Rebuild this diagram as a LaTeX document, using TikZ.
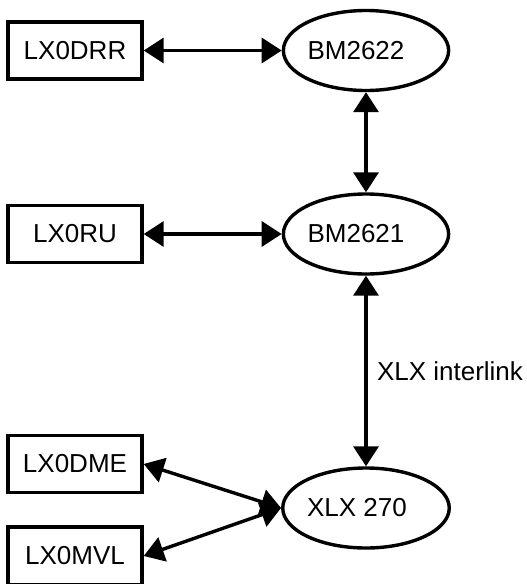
\documentclass[tikz,border=0pt]{standalone}
\usepackage{fontspec}
\setmainfont{Liberation Sans}
\usetikzlibrary{shapes.geometric,arrows.meta}
\begin{document}
\begin{tikzpicture}[x=1pt,y=-1pt,
  every node/.style={font=\fontsize{26}{30}\selectfont},
  boxnode/.style={draw,line width=3.4pt,minimum width=134pt,minimum height=57pt,inner sep=0pt},
  ellnode/.style={draw,ellipse,line width=3.4pt,minimum width=160pt,minimum height=80pt,inner sep=0pt},
  link/.style={line width=3.4pt,{Triangle[length=20pt,width=25pt]}-{Triangle[length=20pt,width=25pt]}}]
\useasboundingbox (0,0) rectangle (527,584);
\node[boxnode] (drr) at (75,50.5) {LX0DRR};
\node[boxnode] (ru) at (75,234) {LX0RU};
\node[boxnode] (dme) at (75,464) {LX0DME};
\node[boxnode,minimum height=58pt] (mvl) at (75,556) {LX0MVL};
\node[ellnode] (b22) at (366,50.5) {BM2622\hspace*{20pt}};
\node[ellnode] (b21) at (366,234) {BM2621\hspace*{20pt}};
\node[ellnode] (xlx) at (366,508) {XLX 270\hspace*{18pt}};
\draw[link] (drr.east) -- (b22.west);
\draw[link] (ru.east) -- (b21.west);
\draw[link] (b22.south) -- (b21.north);
\draw[link] (b21.south) -- node[right=6pt] {XLX interlink} (xlx.north);
\draw[link] (dme.east) -- (xlx.west);
\draw[link] (mvl.east) -- (xlx.west);
\end{tikzpicture}
\end{document}
